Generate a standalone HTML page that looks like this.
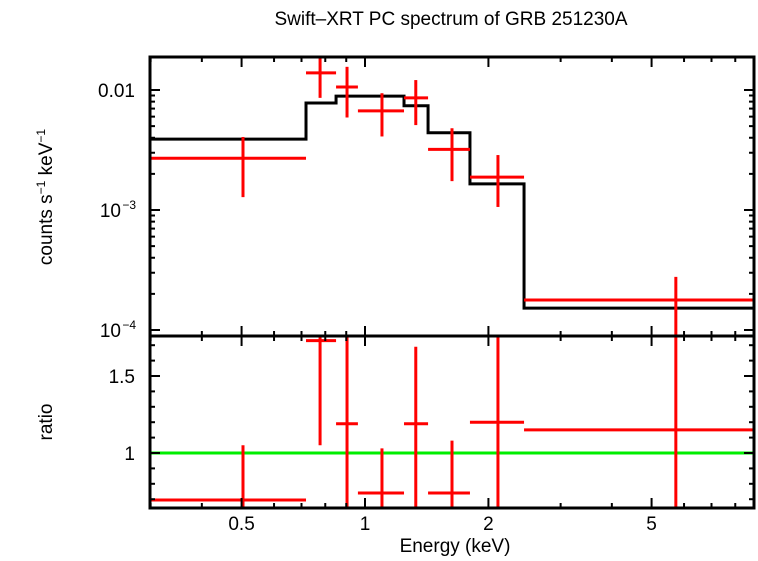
<!DOCTYPE html>
<html><head><meta charset="utf-8"><style>
body{margin:0;background:#fff;}
svg text{font-family:"Liberation Sans",sans-serif;}
</style></head><body>
<svg id="c" width="758" height="556" xmlns="http://www.w3.org/2000/svg">
<text x="451" y="25" font-size="19" text-anchor="middle">Swift–XRT PC spectrum of GRB 251230A</text>
<text x="455" y="552" font-size="19" text-anchor="middle">Energy (keV)</text>
<text transform="translate(52,197) rotate(-90)" font-size="19" text-anchor="middle">counts s<tspan font-size="12" dy="-7">−1</tspan><tspan dy="7"> keV</tspan><tspan font-size="12" dy="-7">−1</tspan></text>
<text transform="translate(52,422) rotate(-90)" font-size="19" text-anchor="middle">ratio</text>
<g id="g"></g>
</svg>
<script>
const binLo=[0.3,0.718,0.85,0.961,1.245,1.425,1.803,2.443];
const binHi=[0.718,0.85,0.961,1.245,1.425,1.803,2.443,8.9];
const binCenter=[0.504,0.777,0.904,1.1,1.33,1.63,2.11,5.73];
const rate=[2.7e-3,0.0139,0.0106,0.0067,0.0086,0.0032,0.00188,1.78e-4];
const rateHi=[4.06e-3,0.022,0.0156,0.0094,0.0121,0.0048,0.00287,2.77e-4];
const rateLo=[1.28e-3,0.0086,0.0059,0.0041,0.0051,0.00174,0.00106,6e-5];
const model=[3.9e-3,7.8e-3,8.9e-3,8.9e-3,7.4e-3,4.4e-3,1.65e-3,1.52e-4];
const ratio=[0.695,1.73,1.19,0.74,1.19,0.74,1.2,1.15];
const ratioHi=[1.05,2.2,2.2,1.03,1.69,1.08,2.2,2.2];
const ratioLo=[0.5,1.05,0.5,0.5,0.62,0.5,0.5,0.5];
const xTicks=[0.5,1,2,5];
const xMinor=[0.3,0.4,0.6,0.7,0.8,0.9,3,4,6,7,8];
const yTopMajor=[0.01,0.001,0.0001];
const yTopLabels=["0.01","10","10"];
const yRatioTicks=[1,1.5];
const yRatioLabels=["1","1.5"];

const L=150,R=754,T=57,M=336,B=508;
const X=e=>365+410*Math.log10(e);
const YT=v=>90-120*(Math.log10(v)+2);
const YR=v=>453-154*(v-1);
const g=document.getElementById('g');
const NS='http://www.w3.org/2000/svg';
function el(t,a){const e=document.createElementNS(NS,t);for(const k in a)e.setAttribute(k,a[k]);g.appendChild(e);return e;}

const defs=document.createElementNS(NS,'defs');
defs.innerHTML='<clipPath id="ct"><rect x="150" y="57" width="604" height="279"/></clipPath><clipPath id="cb"><rect x="150" y="336" width="604" height="172"/></clipPath>';
g.appendChild(defs);

let d='';
for(let i=0;i<model.length;i++){const y=YT(model[i]);d+=(i?'L':'M')+X(binLo[i])+','+y+'L'+X(binHi[i])+','+y;}
const mp=el('path',{d:d,fill:'none',stroke:'#000','stroke-width':3,'clip-path':'url(#ct)'});



for(let i=0;i<rate.length;i++){
 const h=el('line',{x1:X(binLo[i]),x2:X(binHi[i]),y1:YT(rate[i]),y2:YT(rate[i]),stroke:'#f00','stroke-width':3,'clip-path':'url(#ct)'});
 
 
 const v=el('line',{x1:X(binCenter[i]),x2:X(binCenter[i]),y1:YT(rateHi[i]),y2:YT(rateLo[i]),stroke:'#f00','stroke-width':3,'clip-path':'url(#ct)'});
 
 
}
const gl=el('line',{x1:L,x2:R,y1:YR(1),y2:YR(1),stroke:'#0e0','stroke-width':3});


for(let i=0;i<ratio.length;i++){
 const h=el('line',{x1:X(binLo[i]),x2:X(binHi[i]),y1:YR(ratio[i]),y2:YR(ratio[i]),stroke:'#f00','stroke-width':3,'clip-path':'url(#cb)'});
 
 
 const v=el('line',{x1:X(binCenter[i]),x2:X(binCenter[i]),y1:YR(ratioHi[i]),y2:YR(ratioLo[i]),stroke:'#f00','stroke-width':3,'clip-path':'url(#cb)'});
 
 
}
const f1=el('rect',{x:L,y:T,width:R-L,height:M-T,fill:'none',stroke:'#000','stroke-width':3});


const f2=el('rect',{x:L,y:M,width:R-L,height:B-M,fill:'none',stroke:'#000','stroke-width':3});


function tk(x1,y1,x2,y2,n){const t=el('line',{x1,y1,x2,y2,stroke:'#000','stroke-width':2});}
xTicks.forEach(e=>{const x=X(e);[[T,T+10],[M-10,M+10],[B-10,B]].forEach(p=>tk(x,p[0],x,p[1],'x-major-tick'));
 const t=el('text',{x:x,y:530,'font-size':19,'text-anchor':'middle'});t.textContent=e;
 
 });
xMinor.forEach(e=>{const x=X(e);[[T,T+5],[M-5,M+5],[B-5,B]].forEach(p=>tk(x,p[0],x,p[1],'x-minor-tick'));});
yTopMajor.forEach((v,i)=>{const y=YT(v);tk(L,y,L+10,y,'y-major-tick');tk(R-10,y,R,y,'y-major-tick');
 const t=el('text',{x:i==0?135:121,y:y+7,'font-size':19,'text-anchor':'end'});t.textContent=yTopLabels[i];
 
 
 if(i>0){const s=el('text',{x:136,y:y-1,'font-size':12,'text-anchor':'end'});s.textContent=i==1?'−3':'−4';
 
 }
});
for(let dec=-4;dec<=-2;dec++)for(let m=2;m<=9;m++){const v=m*Math.pow(10,dec);const y=YT(v);if(y<T||y>M)continue;tk(L,y,L+5,y,'y-minor-tick');tk(R-5,y,R,y,'y-minor-tick');}
yRatioTicks.forEach((v,i)=>{const y=YR(v);tk(L,y,L+10,y,'ratio-major-tick');tk(R-10,y,R,y,'ratio-major-tick');
 const t=el('text',{x:135,y:y+7,'font-size':19,'text-anchor':'end'});t.textContent=yRatioLabels[i];
 
 });
for(let v=0.7;v<1.76;v+=0.1){if(Math.abs(v-1)<0.01||Math.abs(v-1.5)<0.01)continue;const y=YR(v);tk(L,y,L+5,y,'ratio-minor-tick');tk(R-5,y,R,y,'ratio-minor-tick');}
</script>
</body></html>
